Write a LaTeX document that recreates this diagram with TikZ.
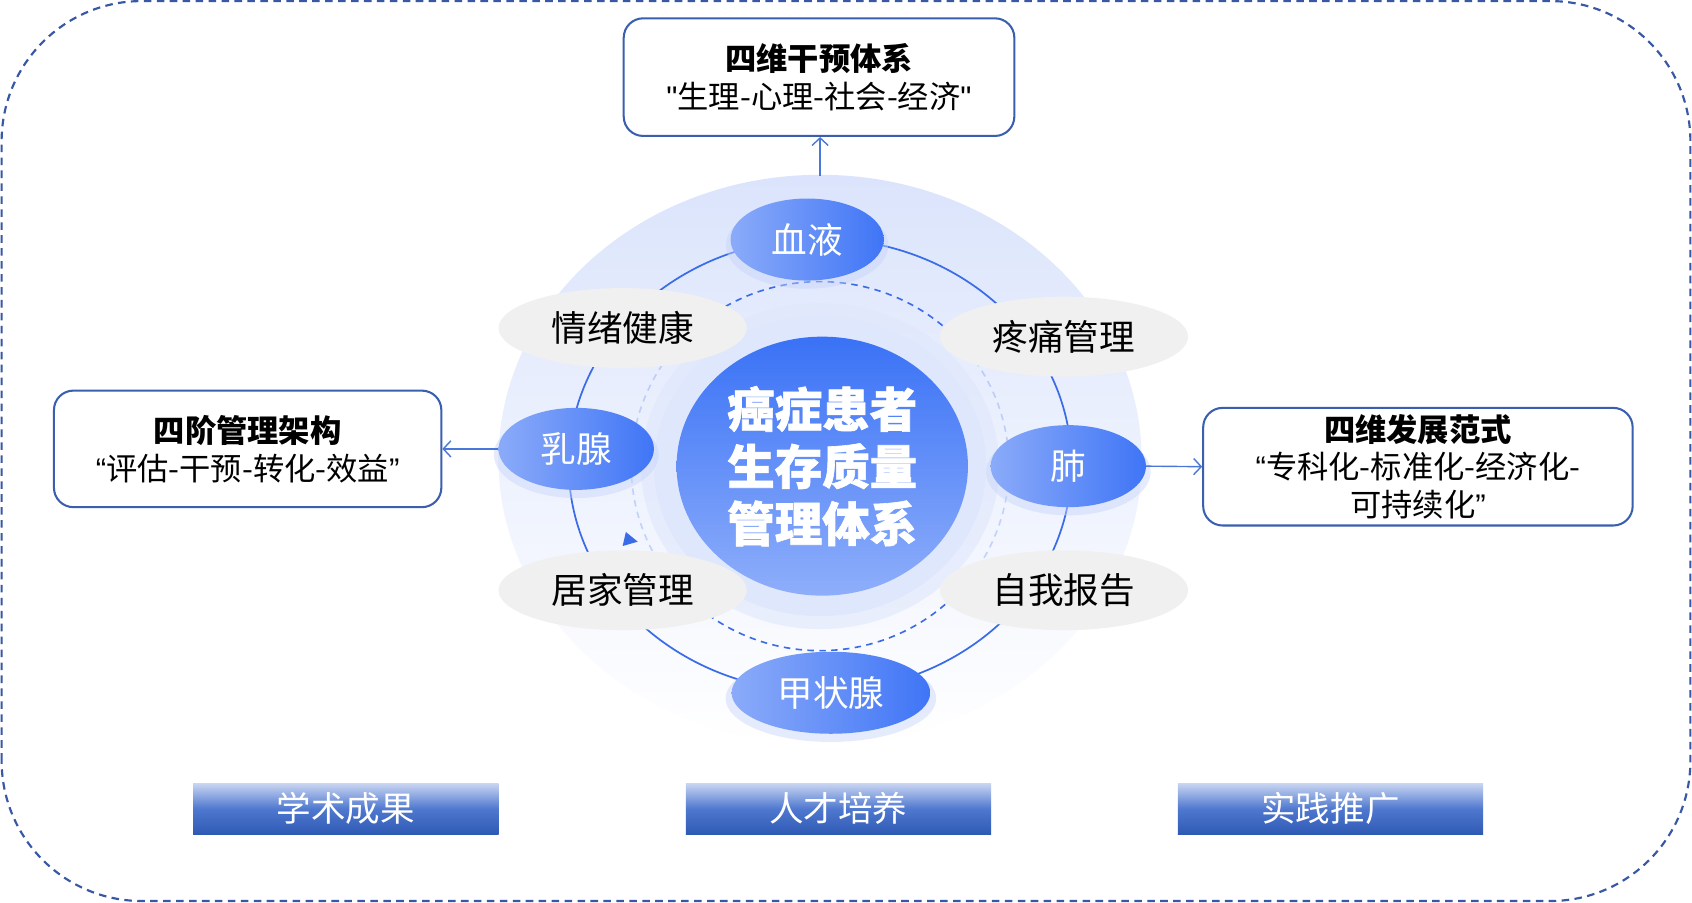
\documentclass[tikz,border=0pt]{standalone}
\usepackage{fontspec}
\setmainfont{Noto Sans CJK SC}
\newfontfamily\latq{Liberation Sans}
\newfontfamily\heavyfont{Noto Sans CJK SC}[BoldFeatures={FakeBold=1.3}]
\usetikzlibrary{shapes.geometric,arrows.meta,shadows}
\definecolor{framec}{HTML}{3857A5}
\definecolor{boxc}{HTML}{3A5FAF}
\definecolor{arrowc}{HTML}{4A78D8}
\definecolor{ringc}{HTML}{3A6CE8}
\definecolor{bleft}{HTML}{8BABF9}
\definecolor{bright}{HTML}{3F75F6}
\definecolor{disctop}{HTML}{3A72F6}
\definecolor{discbot}{HTML}{8EAEFA}
\definecolor{grayc}{HTML}{F0F0F0}
\definecolor{halotop}{HTML}{DBE4FC}
\definecolor{halomid}{HTML}{DFE7FC}
\definecolor{glowc}{HTML}{C6D4FA}
\definecolor{bartop}{HTML}{C8D5F2}
\definecolor{barmid}{HTML}{4F78CF}
\definecolor{barbot}{HTML}{2F5AB4}
\tikzset{
  infobox/.style={draw=boxc, line width=1.9pt, rounded corners=18pt, fill=white,
    align=center, inner sep=0pt, font=\fontsize{29}{35}\selectfont},
  arr/.style={draw=arrowc, line width=1.3pt, -{Straight Barb[length=7pt,width=15pt]}},
  gnode/.style={ellipse, fill=grayc, minimum width=230pt, minimum height=74pt,
    inner sep=0pt, font=\fontsize{33}{40}\selectfont, text=black},
  bnode/.style={ellipse, left color=bleft, right color=bright, minimum height=76pt,
    inner sep=0pt, text=white, font=\fontsize{33}{40}\selectfont,
    general shadow={fill=glowc, opacity=0.45, shadow scale=1.06, shadow yshift=-5pt}},
  disc/.style={ellipse, top color=disctop, bottom color=discbot, minimum width=270pt,
    minimum height=240pt, inner sep=0pt, text=white, align=center,
    font=\fontsize{44}{53}\selectfont\heavyfont\bfseries},
  bar/.style={rectangle, minimum width=283pt, minimum height=47pt, inner sep=0pt,
    top color=bartop, bottom color=barbot, middle color=barmid, text=white,
    font=\fontsize{32}{38}\selectfont},
  dring/.style={ringc, line width=1.5pt, dash pattern=on 6pt off 5pt}
}
\begin{document}
\begin{tikzpicture}[x=1pt,y=1pt]
\useasboundingbox (0,66.2) rectangle (1568,903);
\fill[white] (0,66.2) rectangle (1568,903);
% outer dashed frame
\draw[framec, line width=2pt, dash pattern=on 7pt off 5pt, rounded corners=130pt]
  (1.5,68) rectangle (1566.5,902);
% big halo
\shade[top color=halotop, bottom color=white] (760,477) ellipse [x radius=298, y radius=264];
% rings
\draw[ringc, line width=1.6pt] (760,472) ellipse [x radius=233, y radius=210];
\draw[dring] (760,471) ++(35:175 and 171) arc [start angle=35, end angle=121, x radius=175, y radius=171];
\draw[dring, opacity=0.25] (760,471) ++(121:175 and 171) arc [start angle=121, end angle=230, x radius=175, y radius=171];
\draw[dring] (760,471) ++(230:175 and 171) arc [start angle=230, end angle=312, x radius=175, y radius=171];
\draw[dring, opacity=0.25] (760,471) ++(312:175 and 171) arc [start angle=312, end angle=395, x radius=175, y radius=171];
\fill[ringc] (580,410) -- (577,397) -- (591,401) -- cycle;
% center halo
\fill[halomid, opacity=0.6] (760,471) ellipse [x radius=166, y radius=151];
\fill[halomid, opacity=0.9] (760,471) ellipse [x radius=154, y radius=139];
% center disc
\node[disc] (core) at (762,471) {癌症患者\\生存质量\\管理体系};
% gray nodes
\node[gnode] (qx) at (577,599) {情绪健康};
\node[gnode] (tt) at (986,591) {疼痛管理};
\node[gnode] (jj) at (577,356) {居家管理};
\node[gnode] (zw) at (986,356) {自我报告};
% blue nodes
\node[bnode, minimum width=142pt] (xy) at (748,681) {血液};
\node[bnode, minimum width=144pt] (ru) at (534,487) {乳腺};
\node[bnode, minimum width=144pt] (fei) at (990,471) {肺};
\node[bnode, minimum width=184pt] (jzx) at (770,261) {甲状腺};
% boxes
\node[infobox, minimum width=362pt, minimum height=109pt] (topbox) at (759,831.5)
  {{\bfseries 四维干预体系}\\{\latq "}生理-心理-社会-经济{\latq "}};
\node[infobox, minimum width=359pt, minimum height=108pt] (leftbox) at (229.5,487)
  {{\bfseries 四阶管理架构}\\{\latq “}评估-干预-转化-效益{\latq ”}};
\node[infobox, minimum width=398pt, minimum height=109pt] (rightbox) at (1314,470.5)
  {{\bfseries 四维发展范式}\\{\latq “}专科化-标准化-经济化-\\可持续化{\latq ”}};
% arrows
\coordinate (htop) at (760,740);
\draw[arr] (htop) -- (htop |- topbox.south);
\draw[arr] (ru.west) -- (leftbox.east);
\draw[arr] (fei.east) -- (rightbox.west);
% bottom bars
\node[bar] (b1) at (320.5,153.5) {学术成果};
\node[bar] (b2) at (777,153.5) {人才培养};
\node[bar] (b3) at (1233,153.5) {实践推广};
\end{tikzpicture}
\end{document}
